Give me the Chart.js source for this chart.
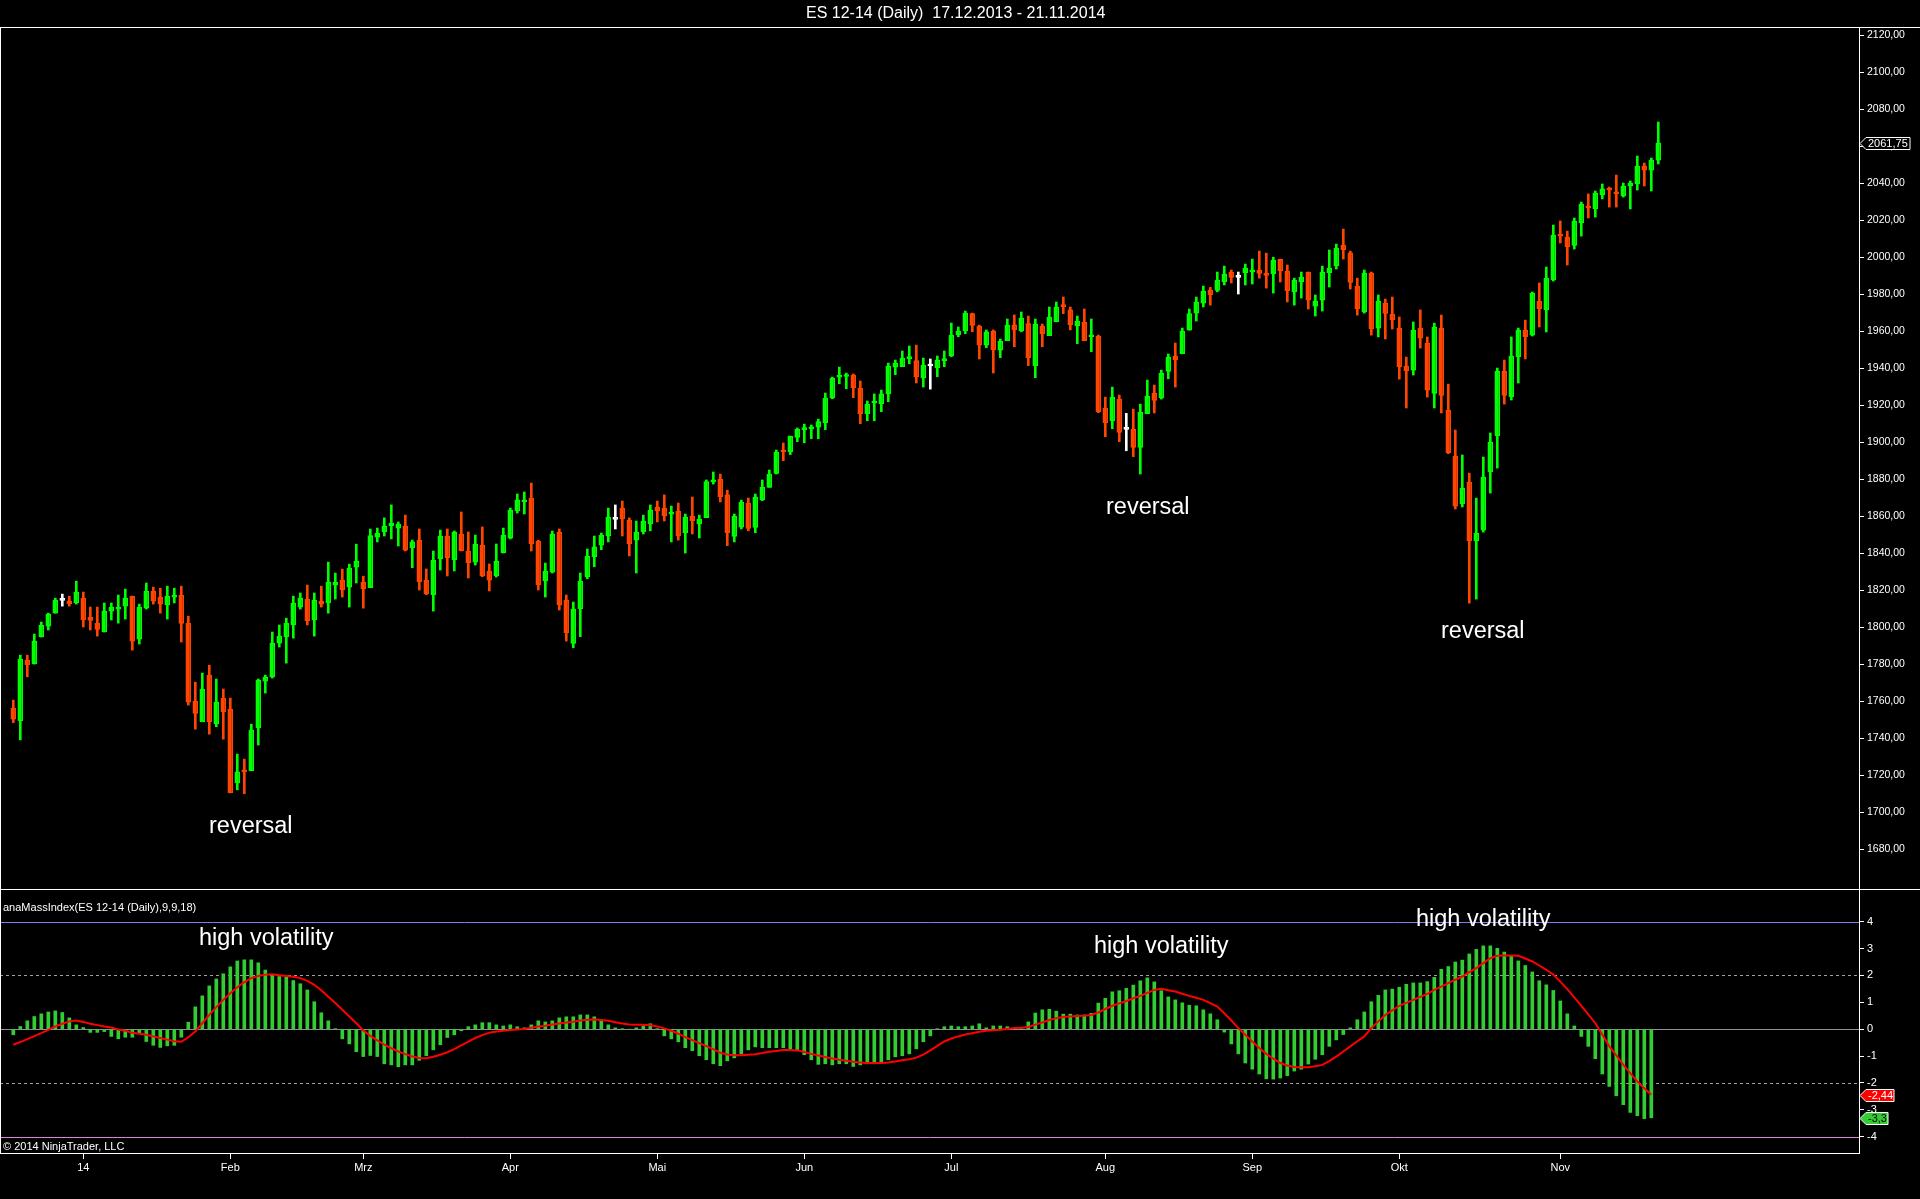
<!DOCTYPE html>
<html>
<head>
<meta charset="utf-8">
<title>ES 12-14 (Daily)</title>
<script src="https://cdn.jsdelivr.net/npm/chart.js@4.4.1/dist/chart.umd.min.js"></script>
<style>
html, body { margin: 0; padding: 0; background: #000; }
body { width: 1920px; height: 1199px; position: relative; overflow: hidden;
       font-family: 'Liberation Sans', Arial, sans-serif; color: #fff; }
canvas { position: absolute; left: 0; }
#price { top: 0; }
#mass { top: 890px; }
.t { position: absolute; white-space: nowrap; line-height: 1; }
.big { font-size: 23.5px; }
.small { font-size: 11px; }
</style>
</head>
<body>
<canvas id="price" width="1920" height="890"></canvas>
<canvas id="mass" width="1920" height="309"></canvas>

<div class="t" style="left:806px;top:5px;font-size:16px;">ES 12-14 (Daily)&nbsp; 17.12.2013 - 21.11.2014</div>
<div class="t big" style="left:209px;top:814px;">reversal</div>
<div class="t big" style="left:1106px;top:495px;">reversal</div>
<div class="t big" style="left:1441px;top:619px;">reversal</div>
<div class="t small" style="left:3px;top:902px;">anaMassIndex(ES 12-14 (Daily),9,9,18)</div>
<div class="t big" style="left:199px;top:926px;">high volatility</div>
<div class="t big" style="left:1094px;top:934px;">high volatility</div>
<div class="t big" style="left:1416px;top:907px;">high volatility</div>
<div class="t small" style="left:3px;top:1141px;">© 2014 NinjaTrader, LLC</div>

<script>
// daily OHLC, 17.12.2013 .. 21.11.2014 (one entry per session)
const opens = [
  1756, 1749.2, 1782.1, 1780, 1794.6, 1800.5, 1807.5, 1814.4, 1814, 1813,
  1815.6, 1805.2, 1802, 1797.3, 1808.6, 1809.7, 1811.3, 1816.7, 1793.5, 1810.2,
  1819.4, 1816.2, 1811.9, 1816.2, 1817.3, 1802.1, 1760, 1748.8, 1774, 1747.7,
  1761.6, 1755.6, 1715.8, 1722.1, 1722.3, 1745.6, 1770.8, 1773, 1791.3, 1794.6,
  1801.2, 1810.8, 1815.1, 1803.8, 1814, 1813, 1822.7, 1825.4, 1821.6, 1832.4,
  1824.3, 1821.3, 1848.6, 1851.5, 1854.6, 1853.5, 1854.6, 1842.7, 1847, 1825.4,
  1817.5, 1837, 1849.2, 1836.4, 1850.3, 1841.1, 1835.1, 1844.3, 1830.3, 1827.7,
  1840.2, 1848.1, 1862.7, 1867.7, 1869.7, 1846.5, 1825.1, 1829.7, 1851.3, 1814.6,
  1791.2, 1809.9, 1827.2, 1838, 1844.3, 1849.2, 1858.2, 1864.3, 1857.8, 1847,
  1851.5, 1855.7, 1864.9, 1864.3, 1861, 1862.7, 1851, 1860, 1855.7, 1859.1,
  1878.5, 1880, 1871.4, 1849, 1854, 1867, 1853.9, 1868.7, 1875.5, 1883.1,
  1894.9, 1894.8, 1902.5, 1906.7, 1907.2, 1908.1, 1910.5, 1923.8, 1935, 1935.4,
  1936.2, 1929.2, 1915.3, 1921.1, 1920.7, 1926, 1940.4, 1940.7, 1945.1, 1944,
  1934.6, 1941.1, 1940, 1944, 1946.5, 1958, 1960.2, 1969.4, 1962.7, 1952.4,
  1960, 1949.7, 1954.8, 1963.4, 1960.2, 1964, 1941.3, 1962.7, 1957.5, 1965,
  1973.5, 1971.4, 1962.9, 1964.9, 1956.9, 1957.3, 1918.4, 1911.5, 1923.2, 1906.8,
  1906.8, 1897.1, 1915.3, 1926.3, 1923.8, 1938.2, 1946.5, 1947.7, 1960.5, 1969.7,
  1975, 1982.2, 1982, 1986.7, 1991.9, 1989, 1991.5, 1991.9, 1993, 1991.2,
  1991, 1998.7, 1992.4, 1981.2, 1986.7, 1991.9, 1973.5, 1976.7, 1991.5, 1995.3,
  2006.5, 2002.3, 1984.3, 1970.3, 1991.3, 1961.6, 1975.1, 1969.2, 1961.6, 1941.1,
  1938.9, 1961.6, 1953.5, 1926.3, 1961.6, 1917.3, 1892.4, 1866.5, 1878.4, 1846.5,
  1852.4, 1883.8, 1903.4, 1938.4, 1924.5, 1946, 1960.5, 1957.8, 1976.2, 1971.4,
  1987.6, 2011.9, 2010.8, 2006.3, 2018.6, 2027.6, 2026.1, 2033.7, 2036.8, 2035.1,
  2033, 2038.6, 2039.5, 2049.2, 2047, 2052.4
];
const highs = [
  1760.5, 1784.8, 1784.8, 1796.2, 1802.7, 1807.5, 1815.6, 1817.8, 1816.7, 1824.8,
  1818.9, 1810.8, 1810.8, 1813, 1813, 1817.3, 1820.5, 1816.7, 1812.4, 1823.8,
  1821.6, 1821, 1822.1, 1821, 1822.1, 1805.9, 1770.2, 1775.1, 1779.4, 1771.9,
  1766.5, 1761.6, 1731.3, 1728.6, 1747.5, 1771.9, 1774, 1797.3, 1801.1, 1804.8,
  1816.7, 1818.4, 1822.7, 1818.4, 1822.1, 1835.1, 1829.2, 1831.3, 1834, 1844.8,
  1827.5, 1853, 1853.5, 1859, 1866, 1856.8, 1860.5, 1847, 1853, 1831.4,
  1841.1, 1852.4, 1853, 1851.9, 1862.2, 1851.4, 1849.7, 1854.1, 1834.1, 1844.9,
  1853.5, 1864.3, 1871.9, 1873, 1877.8, 1847, 1834.6, 1851.9, 1853, 1817.3,
  1813.5, 1829.2, 1842.2, 1849.2, 1850.8, 1864.3, 1866, 1868.1, 1859, 1857.3,
  1860.5, 1866, 1868.1, 1871.4, 1865.4, 1867, 1861.1, 1870.3, 1860.5, 1879.5,
  1883.8, 1882.7, 1874, 1861.1, 1868.6, 1869.7, 1871.9, 1879.5, 1884.9, 1895.7,
  1899.5, 1903.2, 1907.6, 1909.7, 1909.2, 1912.4, 1926.5, 1935.1, 1940.5, 1937.3,
  1936.8, 1933, 1922.2, 1926, 1928.1, 1942.7, 1944.3, 1949.2, 1951.9, 1952.4,
  1945.4, 1944.9, 1946.5, 1949.2, 1964.3, 1962.2, 1970.8, 1969.7, 1963.2, 1960.6,
  1960.6, 1955.7, 1966.5, 1968.7, 1970.3, 1968.1, 1966.5, 1963.8, 1973, 1975.7,
  1978.4, 1973, 1968.1, 1971.9, 1966.5, 1957.8, 1924.3, 1929.7, 1925.4, 1915.5,
  1917.8, 1920.5, 1933.5, 1930.8, 1938.9, 1947.6, 1953.5, 1961.6, 1971.9, 1978.4,
  1984.3, 1983.6, 1991.9, 1995.1, 1993, 1991.9, 1996.2, 1998.9, 2003.2, 2002.1,
  1999.9, 1998.9, 1995.7, 1988.6, 1991.9, 1991.9, 1979.5, 1995.1, 2003.8, 2007,
  2015.1, 2003.2, 1988.6, 1993, 1991.9, 1979.5, 1977.3, 1978.4, 1967.6, 1945.9,
  1964.9, 1971.4, 1956.8, 1964.3, 1968.6, 1931.3, 1906.5, 1893, 1883.2, 1869.7,
  1891.9, 1904.9, 1940, 1944.3, 1956.8, 1961.6, 1965.9, 1981.1, 1986, 1994.6,
  2017.3, 2019.5, 2014, 2021.1, 2029.7, 2034.1, 2035.7, 2039.5, 2037.8, 2044.3,
  2040, 2041.1, 2054.6, 2050.8, 2053.5, 2073
];
const lows = [
  1748.3, 1739, 1773.1, 1780, 1794.6, 1798.4, 1807.5, 1811.3, 1811.3, 1812.4,
  1800, 1798.4, 1795.1, 1797.3, 1803.8, 1802.1, 1804.3, 1787.5, 1790.8, 1809.7,
  1812.4, 1807.5, 1804.3, 1813, 1791.9, 1757.8, 1744.8, 1748.8, 1742.1, 1746.1,
  1739.4, 1710.4, 1712, 1709.9, 1722.3, 1736.2, 1764.3, 1772.4, 1789.2, 1780.5,
  1794, 1809.7, 1801.1, 1795.1, 1810.8, 1807.5, 1815.1, 1816.2, 1810.8, 1823.8,
  1810.2, 1821.3, 1846, 1849.2, 1847.6, 1843.8, 1841.1, 1832.1, 1820, 1817.5,
  1808.6, 1830.8, 1827.6, 1830.3, 1841.1, 1826.5, 1833.5, 1827.2, 1819.5, 1827,
  1840, 1847.6, 1861.6, 1861.1, 1841.1, 1820, 1816.2, 1829.2, 1809.2, 1792.4,
  1788.8, 1794.8, 1826.1, 1832.6, 1841.8, 1846, 1853, 1849.2, 1838.4, 1829.2,
  1850.3, 1852, 1856.8, 1857.3, 1846, 1847, 1840, 1850.3, 1848.1, 1859.1,
  1877.3, 1867.6, 1844, 1846, 1853, 1852, 1851, 1868.3, 1875.5, 1882.7,
  1889.9, 1893.2, 1900.2, 1899.6, 1901.8, 1901.8, 1906.7, 1923.4, 1931.5, 1928.8,
  1924, 1909.9, 1911.5, 1911.5, 1916.4, 1921.8, 1936.4, 1940.7, 1942.3, 1931.9,
  1929.7, 1928.6, 1935.3, 1940.7, 1946.1, 1956.9, 1958.6, 1959.6, 1944.9, 1951,
  1937.3, 1945.6, 1954.8, 1951.5, 1959.6, 1941.3, 1934.8, 1951.5, 1957.5, 1965,
  1969.4, 1960.6, 1953.2, 1954.8, 1948.8, 1915.9, 1902.9, 1907.2, 1900.2, 1895.3,
  1892.1, 1882.7, 1915.3, 1915.7, 1923.2, 1934.2, 1929.7, 1947.7, 1960.5, 1965.4,
  1973, 1974, 1981.2, 1984.9, 1986, 1980, 1984.9, 1985.4, 1988.6, 1983.2,
  1980.5, 1986.5, 1975.7, 1974, 1977.8, 1971.9, 1968.1, 1970.8, 1983.8, 1993.5,
  1998.9, 1982.7, 1968.6, 1969.7, 1957.8, 1956.8, 1955.7, 1961.1, 1934, 1918.4,
  1936.2, 1950.8, 1924.3, 1918.4, 1915.7, 1893.7, 1863.8, 1864.9, 1812.9, 1815.1,
  1851.3, 1872.4, 1885.9, 1920.5, 1922.7, 1931.9, 1944.9, 1957.3, 1962.2, 1959.5,
  1987, 2007.6, 1995.7, 2004.3, 2011.3, 2021.1, 2021.6, 2031.4, 2027, 2027,
  2032.4, 2026, 2036.2, 2038.4, 2035.7, 2050.3
];
const closes = [
  1750.2, 1782.7, 1779.6, 1792.4, 1800.9, 1807, 1814.6, 1814.4, 1812.6, 1818.9,
  1803.8, 1803.6, 1798.7, 1808.6, 1810.8, 1810.8, 1815.6, 1792.4, 1810.8, 1819.4,
  1814, 1812.4, 1816.7, 1816.7, 1802, 1759.4, 1753.3, 1766.5, 1748.8, 1759.4,
  1754.2, 1710.4, 1721.8, 1721.8, 1744.3, 1771.3, 1773, 1791.3, 1795.1, 1802,
  1813, 1815.6, 1803.4, 1814.6, 1812.4, 1824.3, 1824.3, 1820, 1831.9, 1835.6,
  1820.7, 1849.5, 1850.7, 1854.6, 1856.2, 1855.7, 1841.6, 1846, 1824.5, 1818,
  1836.2, 1849.2, 1837.5, 1851.3, 1841.3, 1834.8, 1844.9, 1827.6, 1825.4, 1835.7,
  1849.7, 1863.2, 1868.7, 1868.7, 1844.9, 1822.7, 1830.3, 1850.3, 1811.9, 1797,
  1809.7, 1824.9, 1838.4, 1843.3, 1849.7, 1859.5, 1858.2, 1858.4, 1845, 1851.3,
  1857.3, 1863.2, 1862.7, 1860, 1861.6, 1849.2, 1859.5, 1857.5, 1858.4, 1878.6,
  1879.5, 1870.5, 1851, 1860, 1867.6, 1853.3, 1870.3, 1875.7, 1882.7, 1894.6,
  1894.6, 1903.2, 1906.9, 1907, 1907.5, 1911, 1923.8, 1934.6, 1935.1, 1936.2,
  1929.4, 1915.3, 1920.5, 1921.9, 1926, 1941.1, 1942.7, 1945.4, 1945.4, 1935.3,
  1941.6, 1941.1, 1944.3, 1944.3, 1957.8, 1960, 1969.7, 1963.1, 1952.4, 1959.6,
  1949.9, 1954.6, 1963.2, 1960.7, 1967, 1945.6, 1963.8, 1958.4, 1967.6, 1973,
  1973.2, 1963.4, 1965.4, 1954.8, 1957.3, 1916.4, 1910.5, 1924.1, 1905.2, 1906.8,
  1897.1, 1916, 1924.7, 1922.5, 1937.1, 1945.9, 1944.5, 1960, 1969.5, 1975.7,
  1981.6, 1979.6, 1987.6, 1990.8, 1989, 1989, 1994, 1992.1, 1991.2, 1990.1,
  1998.4, 1992.6, 1981.8, 1987.6, 1989.2, 1976.7, 1976.2, 1991.9, 1994, 2004.9,
  2004, 1986.3, 1971.9, 1991.3, 1961.1, 1976.2, 1969.5, 1966, 1940.7, 1938.6,
  1960.5, 1956.2, 1928.1, 1962.2, 1925.2, 1894.2, 1865.4, 1875.1, 1846.5, 1850.6,
  1881.1, 1900, 1938.4, 1925.2, 1946.5, 1960.5, 1956.9, 1980.5, 1972.1, 1988.6,
  2011.9, 2011.3, 2005.6, 2019.5, 2028.6, 2026.5, 2034.6, 2036.8, 2036.2, 2034.1,
  2038.4, 2039.8, 2049.2, 2047, 2052.4, 2061.75
];

// anaMassIndex(9,9,18): histogram and its signal line (no value on the last session)
const massHist = [
  -0.21, 0.1, 0.31, 0.47, 0.57, 0.64, 0.68, 0.62, 0.42, 0.16,
  0.06, -0.12, -0.12, -0.09, -0.27, -0.36, -0.3, -0.3, -0.17, -0.46,
  -0.6, -0.68, -0.62, -0.6, -0.3, 0.26, 0.83, 1.24, 1.61, 1.87,
  2.06, 2.32, 2.54, 2.58, 2.58, 2.47, 2.2, 2.02, 1.96, 1.93,
  1.81, 1.69, 1.46, 1.02, 0.61, 0.31, 0.01, -0.36, -0.55, -0.84,
  -1.02, -0.98, -1.02, -1.29, -1.33, -1.4, -1.33, -1.33, -1.16, -0.99,
  -0.77, -0.58, -0.31, -0.21, -0.06, 0.09, 0.16, 0.24, 0.24, 0.16,
  0.12, 0.16, 0.09, 0.05, 0.16, 0.31, 0.27, 0.31, 0.42, 0.46,
  0.46, 0.53, 0.53, 0.46, 0.31, 0.16, 0.05, 0.01, 0, 0.05,
  0.12, 0.2, 0.01, -0.25, -0.36, -0.47, -0.69, -0.8, -0.99, -1.14,
  -1.29, -1.36, -1.18, -1.07, -0.92, -0.77, -0.66, -0.69, -0.69, -0.69,
  -0.69, -0.73, -0.77, -0.95, -1.14, -1.31, -1.29, -1.33, -1.29, -1.29,
  -1.39, -1.33, -1.29, -1.29, -1.21, -1.14, -1.03, -0.99, -0.92, -0.73,
  -0.47, -0.25, 0.01, 0.09, 0.12, 0.09, 0.09, 0.12, 0.2, 0.05,
  0.12, 0.12, 0.09, 0.02, 0.01, 0.27, 0.6, 0.72, 0.74, 0.67,
  0.56, 0.56, 0.53, 0.53, 0.59, 0.97, 1.15, 1.39, 1.43, 1.52,
  1.64, 1.8, 1.91, 1.76, 1.43, 1.2, 1.09, 0.98, 0.89, 0.87,
  0.72, 0.57, 0.35, -0.11, -0.55, -0.92, -1.26, -1.49, -1.67, -1.85,
  -1.86, -1.82, -1.73, -1.56, -1.49, -1.3, -1.12, -0.95, -0.64, -0.4,
  -0.2, 0.05, 0.35, 0.64, 1.02, 1.26, 1.46, 1.49, 1.56, 1.67,
  1.72, 1.72, 1.77, 1.93, 2.23, 2.33, 2.5, 2.57, 2.8, 2.97,
  3.1, 3.1, 3.01, 2.87, 2.73, 2.54, 2.37, 2.13, 1.8, 1.65,
  1.44, 1.05, 0.57, 0.12, -0.27, -0.64, -1.1, -1.67, -2.13, -2.48,
  -2.81, -3.1, -3.22, -3.33, -3.3, null
];
const massSignal = [
  -0.58, -0.48, -0.37, -0.26, -0.15, -0.03, 0.1, 0.2, 0.29, 0.32,
  0.27, 0.2, 0.15, 0.1, 0.06, -0.01, -0.06, -0.13, -0.17, -0.21,
  -0.27, -0.33, -0.39, -0.45, -0.47, -0.3, -0.09, 0.22, 0.53, 0.82,
  1.09, 1.34, 1.56, 1.75, 1.9, 1.98, 2.03, 2.04, 2.01, 1.98,
  1.95, 1.9, 1.8, 1.65, 1.45, 1.21, 0.97, 0.72, 0.47, 0.22,
  -0.05, -0.25, -0.42, -0.58, -0.71, -0.83, -0.93, -1.02, -1.07, -1.08,
  -1.03, -0.95, -0.86, -0.74, -0.6, -0.46, -0.33, -0.22, -0.13, -0.09,
  -0.06, -0.03, -0.01, 0.01, 0.05, 0.1, 0.13, 0.17, 0.21, 0.25,
  0.28, 0.32, 0.35, 0.36, 0.34, 0.31, 0.26, 0.21, 0.17, 0.16,
  0.16, 0.15, 0.1, 0.03, -0.06, -0.17, -0.3, -0.41, -0.52, -0.63,
  -0.74, -0.88, -0.94, -0.97, -0.97, -0.95, -0.93, -0.89, -0.84, -0.81,
  -0.78, -0.78, -0.79, -0.85, -0.92, -0.98, -1.04, -1.09, -1.14, -1.18,
  -1.21, -1.24, -1.26, -1.26, -1.26, -1.24, -1.2, -1.16, -1.12, -1.06,
  -0.95, -0.79, -0.62, -0.46, -0.35, -0.27, -0.2, -0.15, -0.1, -0.06,
  -0.04, -0.02, 0.01, 0.04, 0.05, 0.08, 0.17, 0.25, 0.34, 0.41,
  0.45, 0.47, 0.49, 0.5, 0.53, 0.62, 0.75, 0.87, 0.96, 1.05,
  1.15, 1.24, 1.35, 1.46, 1.5, 1.45, 1.4, 1.32, 1.24, 1.17,
  1.09, 0.97, 0.84, 0.59, 0.32, 0.04, -0.21, -0.46, -0.7, -0.92,
  -1.1, -1.26, -1.35, -1.41, -1.42, -1.42, -1.38, -1.33, -1.19, -1.02,
  -0.83, -0.64, -0.45, -0.27, 0.04, 0.29, 0.53, 0.7, 0.87, 0.98,
  1.09, 1.2, 1.31, 1.46, 1.58, 1.71, 1.84, 1.96, 2.12, 2.27,
  2.46, 2.64, 2.73, 2.74, 2.74, 2.73, 2.63, 2.52, 2.37, 2.21,
  2.03, 1.77, 1.49, 1.18, 0.87, 0.55, 0.22, -0.2, -0.64, -0.98,
  -1.33, -1.64, -1.95, -2.2, -2.44, null
];

// x axis: first session of each month
const monthIdx = [10, 31, 50, 71, 92, 113, 134, 156, 177, 198, 221];
const monthLabels = ['14', 'Feb', 'Mrz', 'Apr', 'Mai', 'Jun', 'Jul', 'Aug', 'Sep', 'Okt', 'Nov'];

const priceTicks = [1680, 1700, 1720, 1740, 1760, 1780, 1800, 1820, 1840, 1860, 1880, 1900,
  1920, 1940, 1960, 1980, 2000, 2020, 2040, 2060, 2080, 2100, 2120];
const massTicks = [-4, -3, -2, -1, 0, 1, 2, 3, 4];

const lastPrice = 2061.75;
const lastSignal = -2.44;
const lastHist = -3.3;

// ---------------------------------------------------------------------------

Chart.defaults.font.family = "'Liberation Sans', Arial, sans-serif";
Chart.defaults.font.size = 11;
Chart.defaults.color = '#fff';

const X_MIN = -1.9;
const X_MAX = X_MIN + 1859 / 7;
const AXIS_W = 61;

const UP = '#00ff00', DOWN = '#ff4500', FLAT = '#ffffff';
const idx = opens.map((_, i) => i);
const candleColor = idx.map(i => closes[i] > opens[i] ? UP : closes[i] < opens[i] ? DOWN : FLAT);

const fmt = v => v.toFixed(2).replace('.', ',');
const fmtShort = v => String(v).replace('.', ',');

// fixed-width right axis, and no extra room reserved for the end labels
function fitRightAxis(s) {
  s.width = AXIS_W;
  s.paddingTop = 0;
  s.paddingBottom = 0;
}

function badge(ctx, x, y, text, fill, stroke, textColor, w) {
  ctx.save();
  ctx.beginPath();
  ctx.moveTo(x, y);
  ctx.lineTo(x + 6, y - 6);
  ctx.lineTo(x + w, y - 6);
  ctx.lineTo(x + w, y + 6);
  ctx.lineTo(x + 6, y + 6);
  ctx.closePath();
  ctx.fillStyle = fill;
  ctx.fill();
  ctx.strokeStyle = stroke;
  ctx.lineWidth = 1;
  ctx.stroke();
  ctx.fillStyle = textColor;
  ctx.font = "11px 'Liberation Sans', Arial, sans-serif";
  ctx.textBaseline = 'middle';
  ctx.textAlign = 'left';
  ctx.fillText(text, x + 8, y + 0.5);
  ctx.restore();
}

const priceFrame = {
  id: 'priceFrame',
  afterDraw(chart) {
    const { ctx, chartArea: a } = chart;
    ctx.save();
    ctx.strokeStyle = '#fff';
    ctx.lineWidth = 1;
    ctx.beginPath();
    ctx.moveTo(0, 27.5); ctx.lineTo(1920, 27.5);
    ctx.moveTo(0, a.bottom + 0.5); ctx.lineTo(1920, a.bottom + 0.5);
    ctx.moveTo(0.5, 27); ctx.lineTo(0.5, a.bottom);
    ctx.moveTo(a.right + 0.5, 27); ctx.lineTo(a.right + 0.5, a.top);
    ctx.stroke();
    ctx.restore();
    const y = chart.scales.y.getPixelForValue(lastPrice);
    badge(ctx, a.right + 1, Math.round(y) + 0.5, fmt(lastPrice), '#000', '#fff', '#fff', 50);
  }
};

new Chart(document.getElementById('price'), {
  type: 'bar',
  data: {
    datasets: [
      {
        data: idx.map(i => ({ x: i, y: [lows[i], highs[i]] })),
        backgroundColor: candleColor,
        barThickness: 2,
        grouped: false
      },
      {
        data: idx.map(i => ({ x: i, y: [Math.min(opens[i], closes[i]), Math.max(opens[i], closes[i])] })),
        backgroundColor: 'rgba(0,0,0,0)',
        borderColor: candleColor,
        borderWidth: 1,
        borderSkipped: false,
        barThickness: 5,
        minBarLength: 2,
        grouped: false
      }
    ]
  },
  options: {
    responsive: false,
    animation: false,
    layout: { padding: { top: 28, bottom: 1, left: 0, right: 0 } },
    plugins: { legend: { display: false }, tooltip: { enabled: false } },
    scales: {
      x: { type: 'linear', min: X_MIN, max: X_MAX, display: false, offset: false },
      y: {
        position: 'right',
        min: 1658.4,
        max: 2123.8,
        afterBuildTicks: s => { s.ticks = priceTicks.map(v => ({ value: v })); },
        afterFit: fitRightAxis,
        ticks: { color: '#fff', padding: 3, font: { size: 10.5 }, callback: v => fmt(v) },
        grid: { drawOnChartArea: false, color: '#fff', tickLength: 5 },
        border: { color: '#fff' }
      }
    }
  },
  plugins: [priceFrame]
});

const massFrame = {
  id: 'massFrame',
  beforeDatasetsDraw(chart) {
    const { ctx, chartArea: a, scales: { y } } = chart;
    const line = (v, color, dash) => {
      const py = Math.round(y.getPixelForValue(v)) + 0.5;
      ctx.save();
      ctx.strokeStyle = color;
      ctx.lineWidth = 1;
      ctx.setLineDash(dash);
      ctx.beginPath();
      ctx.moveTo(a.left, py);
      ctx.lineTo(a.right, py);
      ctx.stroke();
      ctx.restore();
    };
    line(4, '#8a78f0', []);
    line(-4, '#dc82dc', []);
    line(2, '#a0a0a0', [3, 3]);
    line(-2, '#a0a0a0', [3, 3]);
    line(0, '#909090', []);
  },
  afterDraw(chart) {
    const { ctx, chartArea: a, scales: { y } } = chart;
    ctx.save();
    ctx.strokeStyle = '#fff';
    ctx.lineWidth = 1;
    ctx.beginPath();
    ctx.moveTo(0.5, 0); ctx.lineTo(0.5, a.bottom);
    ctx.stroke();
    ctx.restore();
    badge(ctx, a.right + 1, Math.round(y.getPixelForValue(lastSignal)) + 0.5,
      fmtShort(lastSignal), '#ff0000', '#fff', '#fff', 34);
    badge(ctx, a.right + 1, Math.round(y.getPixelForValue(lastHist)) + 0.5,
      fmtShort(lastHist), '#32cd32', '#fff', '#000', 28);
  }
};

new Chart(document.getElementById('mass'), {
  type: 'bar',
  data: {
    datasets: [
      {
        type: 'line',
        data: idx.map(i => ({ x: i, y: massSignal[i] })),
        borderColor: '#ff0000',
        borderWidth: 2,
        pointRadius: 0,
        tension: 0,
        order: 0
      },
      {
        type: 'bar',
        data: idx.map(i => ({ x: i, y: massHist[i] })),
        backgroundColor: '#32cd32',
        barThickness: 3,
        order: 1
      }
    ]
  },
  options: {
    responsive: false,
    animation: false,
    layout: { padding: { top: 0, bottom: 0, left: 0, right: 0 } },
    plugins: { legend: { display: false }, tooltip: { enabled: false } },
    scales: {
      x: {
        type: 'linear',
        min: X_MIN,
        max: X_MAX,
        offset: false,
        afterBuildTicks: s => { s.ticks = monthIdx.map(v => ({ value: v })); },
        afterFit: s => { s.height = 46; },
        ticks: {
          color: '#fff', padding: 2, maxRotation: 0, autoSkip: false,
          callback: v => monthLabels[monthIdx.indexOf(v)]
        },
        grid: { drawOnChartArea: false, offset: false, color: '#fff', tickLength: 6 },
        border: { color: '#fff' }
      },
      y: {
        position: 'right',
        min: -4.61,
        max: 5.18,
        afterBuildTicks: s => { s.ticks = massTicks.map(v => ({ value: v })); },
        afterFit: fitRightAxis,
        ticks: { color: '#fff', padding: 3, font: { size: 11 }, callback: v => String(v) },
        grid: { drawOnChartArea: false, color: '#fff', tickLength: 5 },
        border: { color: '#fff' }
      }
    }
  },
  plugins: [massFrame]
});
</script>
</body>
</html>
